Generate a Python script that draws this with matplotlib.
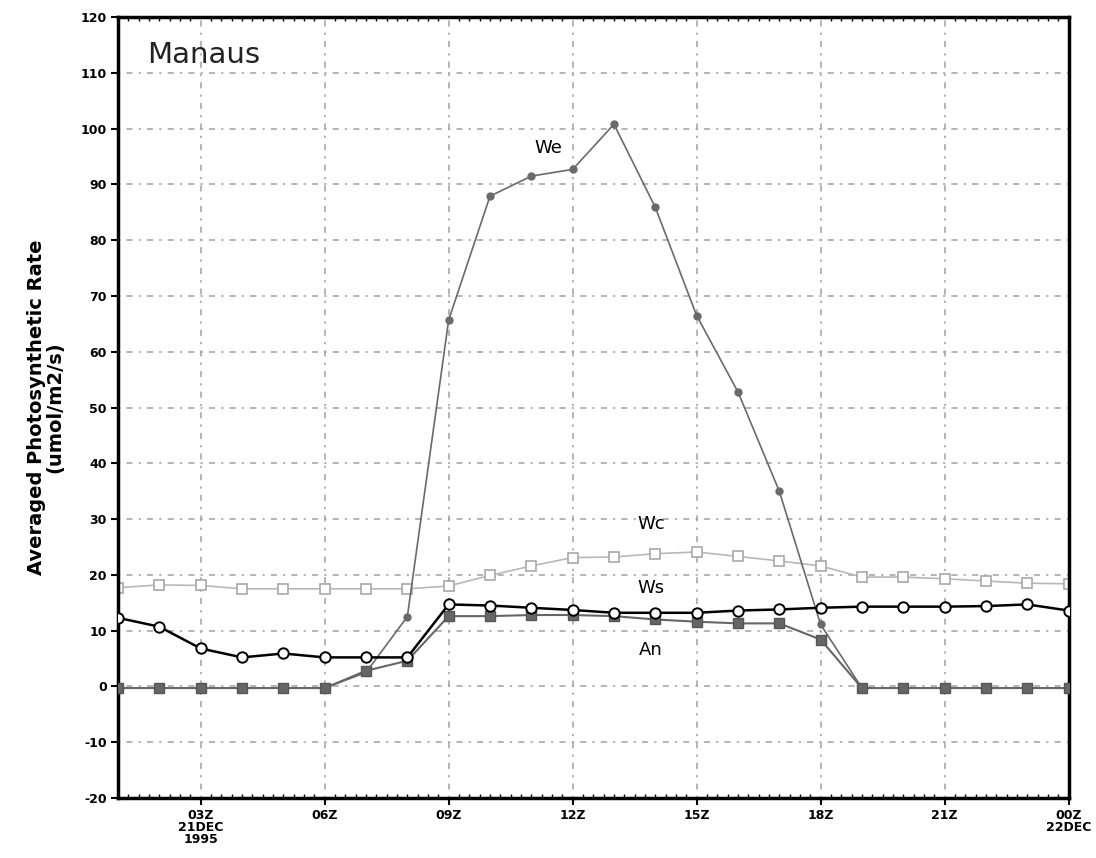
import matplotlib.pyplot as plt
import numpy as np

# hourly values, 01Z 21DEC 1995 .. 00Z 22DEC
hours = list(range(24))
ws = [12.3, 10.7, 6.8, 5.2, 5.9, 5.2, 5.2, 5.2, 14.7, 14.5, 14.1, 13.7,
      13.2, 13.2, 13.2, 13.6, 13.8, 14.1, 14.3, 14.3, 14.3, 14.4, 14.7, 13.6]
wc = [17.7, 18.2, 18.1, 17.5, 17.5, 17.5, 17.5, 17.5, 18.0, 19.9, 21.6, 23.1,
      23.2, 23.8, 24.1, 23.3, 22.5, 21.6, 19.6, 19.6, 19.3, 18.9, 18.5, 18.4]
an = [-0.3, -0.3, -0.3, -0.3, -0.3, -0.3, 2.8, 4.6, 12.6, 12.6, 12.8, 12.8,
      12.6, 12.0, 11.6, 11.3, 11.3, 8.4, -0.3, -0.3, -0.3, -0.3, -0.3, -0.3]
we = [-0.3, -0.3, -0.3, -0.3, -0.3, -0.3, 2.5, 12.5, 65.7, 87.9, 91.5, 92.7,
      100.8, 85.9, 66.5, 52.8, 35.0, 11.1, -0.3, -0.3, -0.3, -0.3, -0.3, -0.3]

xtick_pos = [2, 5, 8, 11, 14, 17, 20, 23]
xtick_lab = ["03Z\n21DEC\n1995", "06Z", "09Z", "12Z", "15Z", "18Z", "21Z", "00Z\n22DEC"]
yticks = list(range(-20, 121, 10))

fig = plt.figure(figsize=(10.96, 8.58), dpi=100)
ax = fig.add_axes([0.1077, 0.070, 0.8673, 0.910])

# grid, dash-dot like the original
gstyle = (0, (1.5, 4, 4, 4))
for y in yticks[1:-1]:
    ax.axhline(y, color='#a0a0a0', lw=1.1, ls=gstyle, zorder=0)
for x in xtick_pos[:-1]:
    ax.axvline(x, color='#a0a0a0', lw=1.1, ls=gstyle, zorder=0)

ax.plot(hours, wc, '-', color='#b8b8b8', lw=1.2, marker='s', ms=7.5,
        mfc='white', mec='#a8a8a8', mew=1.2, zorder=2)
ax.plot(hours, we, '-', color='#6a6a6a', lw=1.2, marker='o', ms=5,
        mfc='#6a6a6a', mec='#6a6a6a', zorder=3)
ax.plot(hours, an, '-', color='#666666', lw=1.5, marker='s', ms=6.5,
        mfc='#666666', mec='#555555', zorder=3)
ax.plot(hours, ws, '-', color='black', lw=1.8, marker='o', ms=7.5,
        mfc='white', mec='black', mew=1.4, zorder=4)

ax.text(10.4, 96.5, 'We', fontsize=13, ha='center', va='center')
ax.text(12.9, 29.2, 'Wc', fontsize=13, ha='center', va='center')
ax.text(12.9, 17.7, 'Ws', fontsize=13, ha='center', va='center')
ax.text(12.9, 6.6, 'An', fontsize=13, ha='center', va='center')
ax.text(0.7, 113.2, 'Manaus', fontsize=21, ha='left', va='center', color='#222222')

ax.set_xlim(0, 23)
ax.set_ylim(-20, 120)
ax.set_xticks(xtick_pos)
ax.set_xticklabels(xtick_lab, fontsize=9, fontweight='bold', linespacing=0.9)
ax.set_yticks(yticks)
ax.set_yticklabels([str(v) for v in yticks], fontsize=9, fontweight='bold')
ax.set_xticks(np.arange(0, 23.01, 0.25), minor=True)
ax.tick_params(axis='both', which='major', direction='out', length=5, width=1.5, pad=3)
ax.tick_params(axis='x', which='minor', direction='in', length=3, width=1,
               top=True)
for s in ax.spines.values():
    s.set_linewidth(2.5)

ax.set_ylabel('Averaged Photosynthetic Rate\n(umol/m2/s)', fontsize=14,
              fontweight='bold', labelpad=12, linespacing=0.95)

plt.savefig('out.png', dpi=100)
